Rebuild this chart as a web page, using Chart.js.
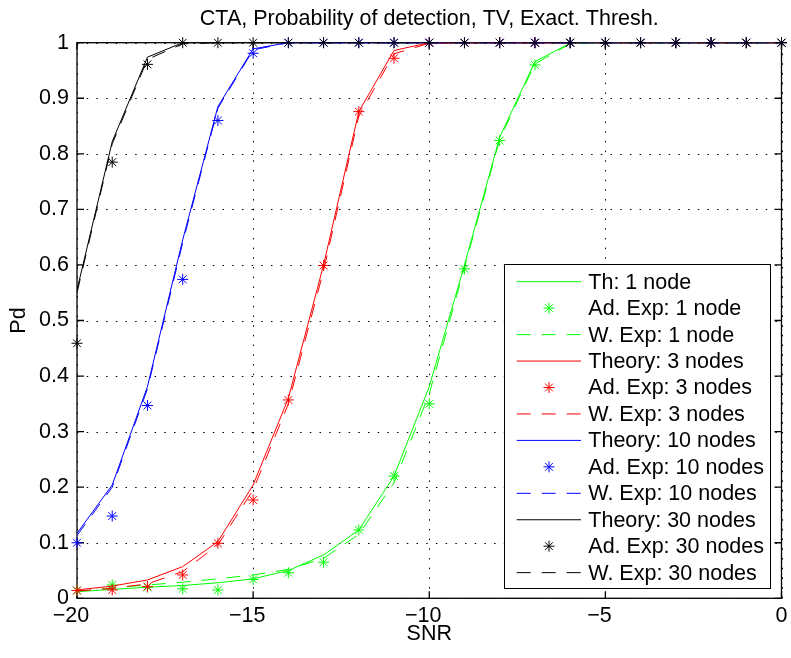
<!DOCTYPE html>
<html>
<head>
<meta charset="utf-8">
<script src="https://cdn.jsdelivr.net/npm/chart.js@4/dist/chart.umd.min.js"></script>
<style>
  html, body { margin: 0; padding: 0; background: #fff; }
  #wrap { width: 791px; height: 658px; }
</style>
</head>
<body>
<div id="wrap"><canvas id="myChart" width="791" height="658"></canvas></div>
<script>
// SNR values (x) and tick labels
const snr = [-20,-19,-18,-17,-16,-15,-14,-13,-12,-11,-10,-9,-8,-7,-6,-5,-4,-3,-2,-1,0];
const xTicks = [-20,-15,-10,-5,0];
const yTicks = [0,0.1,0.2,0.3,0.4,0.5,0.6,0.7,0.8,0.9,1];

// 1 node
const thOne  = [0.012,0.016,0.020,0.023,0.028,0.035,0.050,0.078,0.123,0.220,0.381,0.600,0.830,0.966,0.999,1,1,1,1,1,1];
const adOne  = [0.014,0.024,0.020,0.017,0.015,0.034,0.046,0.065,0.123,0.220,0.350,0.593,0.824,0.960,1,1,1,1,1,1,1];
const wOne   = [0.012,0.019,0.024,0.029,0.035,0.042,0.052,0.072,0.115,0.208,0.368,0.595,0.826,0.962,0.998,1,1,1,1,1,1];
// 3 nodes
const thThree = [0.015,0.022,0.033,0.057,0.102,0.204,0.360,0.600,0.876,0.986,1,1,1,1,1,1,1,1,1,1,1];
const adThree = [0.014,0.015,0.021,0.042,0.099,0.177,0.357,0.599,0.876,0.972,1,1,1,1,1,1,1,1,1,1,1];
const wThree  = [0.013,0.018,0.026,0.048,0.096,0.195,0.350,0.590,0.868,0.980,0.999,1,1,1,1,1,1,1,1,1,1];
// 10 nodes
const thTen = [0.117,0.204,0.381,0.645,0.885,0.989,1,1,1,1,1,1,1,1,1,1,1,1,1,1,1];
const adTen = [0.100,0.148,0.347,0.574,0.860,0.981,1,1,1,1,1,1,1,1,1,1,1,1,1,1,1];
const wTen  = [0.113,0.200,0.377,0.640,0.882,0.987,1,1,1,1,1,1,1,1,1,1,1,1,1,1,1];
// 30 nodes
const thThirty = [0.555,0.822,0.974,1,1,1,1,1,1,1,1,1,1,1,1,1,1,1,1,1,1];
const adThirty = [0.459,0.785,0.961,1,1,1,1,1,1,1,1,1,1,1,1,1,1,1,1,1,1];
const wThirty  = [0.550,0.818,0.970,0.998,1,1,1,1,1,1,1,1,1,1,1,1,1,1,1,1,1];

const FONT = '"Liberation Sans", Arial, Helvetica, sans-serif';
const FS = 21.5;
const DASH = [14, 11];

function pts(arr) {
  return snr.map((x, i) => ({x: x, y: arr[i]}));
}

function theory(label, arr, color) {
  return { label: label, data: pts(arr), borderColor: color, backgroundColor: color,
    borderWidth: 1, pointRadius: 0, tension: 0, kind: 'th' };
}
function adExp(label, arr, color) {
  return { label: label, data: pts(arr), borderColor: color, backgroundColor: color,
    showLine: false, pointStyle: 'star', pointRadius: 5.5, pointBorderWidth: 1,
    pointBorderColor: color, clip: false, kind: 'ad' };
}
function wExp(label, arr, color) {
  return { label: label, data: pts(arr), borderColor: color, backgroundColor: color,
    borderWidth: 1, borderDash: DASH, pointRadius: 0, tension: 0, kind: 'w' };
}

const datasets = [
  theory('Th: 1 node', thOne, '#00ff00'),
  adExp('Ad. Exp: 1 node', adOne, '#00ff00'),
  wExp('W. Exp: 1 node', wOne, '#00ff00'),
  theory('Theory: 3 nodes', thThree, '#ff0000'),
  adExp('Ad. Exp: 3 nodes', adThree, '#ff0000'),
  wExp('W. Exp: 3 nodes', wThree, '#ff0000'),
  theory('Theory: 10 nodes', thTen, '#0000ff'),
  adExp('Ad. Exp: 10 nodes', adTen, '#0000ff'),
  wExp('W. Exp: 10 nodes', wTen, '#0000ff'),
  theory('Theory: 30 nodes', thThirty, '#000000'),
  adExp('Ad. Exp: 30 nodes', adThirty, '#000000'),
  wExp('W. Exp: 30 nodes', wThirty, '#000000')
];
// matlab draws later series on top
datasets.forEach((d, i) => { d.order = datasets.length - i; });

function drawStar(ctx, x, y, r) {
  const d = r * Math.SQRT1_2;
  ctx.beginPath();
  ctx.moveTo(x - r, y); ctx.lineTo(x + r, y);
  ctx.moveTo(x, y - r); ctx.lineTo(x, y + r);
  ctx.moveTo(x - d, y - d); ctx.lineTo(x + d, y + d);
  ctx.moveTo(x - d, y + d); ctx.lineTo(x + d, y - d);
  ctx.stroke();
}

// dotted grid, box and inward ticks
const frame = {
  id: 'frame',
  beforeDatasetsDraw(chart) {
    const {ctx, chartArea: a, scales} = chart;
    const sx = scales.x, sy = scales.y;
    ctx.save();
    ctx.strokeStyle = '#000';
    ctx.lineWidth = 1;
    ctx.setLineDash([1.5, 8.2]);
    sx.ticks.forEach(t => {
      const px = Math.round(sx.getPixelForValue(t.value)) + 0.5;
      ctx.beginPath(); ctx.moveTo(px, a.bottom); ctx.lineTo(px, a.top); ctx.stroke();
    });
    sy.ticks.forEach(t => {
      const py = Math.round(sy.getPixelForValue(t.value)) + 0.5;
      ctx.beginPath(); ctx.moveTo(a.left, py); ctx.lineTo(a.right, py); ctx.stroke();
    });
    ctx.setLineDash([]);
    ctx.lineWidth = 1.3;
    ctx.strokeRect(a.left, a.top, a.right - a.left, a.bottom - a.top);
    const tl = 7;
    ctx.beginPath();
    sx.ticks.forEach(t => {
      const px = sx.getPixelForValue(t.value);
      ctx.moveTo(px, a.bottom); ctx.lineTo(px, a.bottom - tl);
      ctx.moveTo(px, a.top); ctx.lineTo(px, a.top + tl);
    });
    sy.ticks.forEach(t => {
      const py = sy.getPixelForValue(t.value);
      ctx.moveTo(a.left, py); ctx.lineTo(a.left + tl, py);
      ctx.moveTo(a.right, py); ctx.lineTo(a.right - tl, py);
    });
    ctx.stroke();
    ctx.restore();
  }
};

// legend box inside the plot, bottom right
const legendBox = {
  id: 'legendBox',
  afterDatasetsDraw(chart) {
    const ctx = chart.ctx;
    const x0 = 504, y0 = 264, w = 266, h = 324;
    const row = 26.45, first = 281.7;
    ctx.save();
    ctx.fillStyle = '#fff';
    ctx.fillRect(x0, y0, w, h);
    ctx.strokeStyle = '#000';
    ctx.lineWidth = 1;
    ctx.strokeRect(x0 + 0.5, y0 + 0.5, w, h);
    ctx.font = FS + 'px ' + FONT;
    ctx.textBaseline = 'middle';
    ctx.textAlign = 'left';
    chart.data.datasets.forEach((ds, i) => {
      const cy = first + i * row;
      ctx.strokeStyle = ds.borderColor;
      ctx.lineWidth = 1;
      if (ds.kind === 'ad') {
        drawStar(ctx, 549, cy, 5.5);
      } else {
        ctx.setLineDash(ds.kind === 'w' ? DASH : []);
        ctx.beginPath(); ctx.moveTo(516.7, cy); ctx.lineTo(581, cy); ctx.stroke();
        ctx.setLineDash([]);
      }
      ctx.fillStyle = '#000';
      ctx.fillText(ds.label, 588.3, cy + 1);
    });
    ctx.restore();
  }
};

const ctx = document.getElementById('myChart');
new Chart(ctx, {
  type: 'line',
  data: { datasets: datasets },
  plugins: [frame, legendBox],
  options: {
    responsive: false,
    animation: false,
    devicePixelRatio: 1,
    layout: { padding: { left: 0, right: 9.5, top: 0, bottom: 0 } },
    plugins: {
      legend: { display: false },
      tooltip: { enabled: false },
      title: {
        display: true,
        fullSize: false,
        text: 'CTA, Probability of detection, TV, Exact. Thresh.',
        color: '#000',
        font: { family: FONT, size: FS, weight: 'normal', lineHeight: 1.2 },
        padding: { top: 6.5, bottom: 10.4 }
      }
    },
    scales: {
      x: {
        type: 'linear',
        min: -20,
        max: 0,
        afterBuildTicks: s => { s.ticks = xTicks.map(v => ({value: v})); },
        afterFit: s => { s.height = 59.7; s.paddingLeft = 0; s.paddingRight = 0; },
        grid: { display: false, drawTicks: false },
        border: { display: false },
        ticks: {
          color: '#000',
          font: { family: FONT, size: FS },
          padding: 5,
          maxRotation: 0,
          autoSkip: false,
          // matlab centres the digits on the tick, the minus hangs to the left
          callback: v => v < 0 ? '\u2212' + Math.abs(v) + '\u2007' : String(v)
        },
        title: {
          display: true,
          text: 'SNR',
          color: '#000',
          font: { family: FONT, size: FS, lineHeight: 1.2 },
          padding: { top: 0, bottom: 11 }
        }
      },
      y: {
        min: 0,
        max: 1,
        afterBuildTicks: s => { s.ticks = yTicks.map(v => ({value: v})); },
        afterFit: s => { s.width = 77; },
        grid: { display: false, drawTicks: false },
        border: { display: false },
        ticks: {
          color: '#000',
          font: { family: FONT, size: FS },
          padding: 8,
          autoSkip: false,
          callback: v => String(v)
        },
        title: {
          display: true,
          text: 'Pd',
          color: '#000',
          font: { family: FONT, size: FS, lineHeight: 1.2 },
          padding: { top: 6.5, bottom: 0 }
        }
      }
    }
  }
});
</script>
</body>
</html>
